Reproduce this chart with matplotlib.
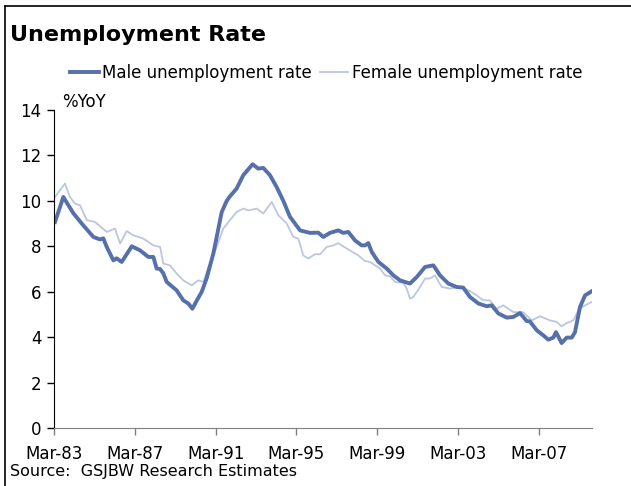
import matplotlib
matplotlib.use("Agg")
import matplotlib.pyplot as plt
import matplotlib.lines as mlines

# Male unemployment rate (%), x in decimal years
male_years = [1983.22, 1983.63, 1984.13, 1984.62, 1985.12, 1985.45, 1985.61, 1985.78,
              1986.11, 1986.27, 1986.52, 1987.02, 1987.43, 1987.84, 1988.09, 1988.25,
              1988.42, 1988.58, 1988.75, 1989.24, 1989.57, 1989.82, 1990.02, 1990.23,
              1990.48, 1990.73, 1991.06, 1991.47, 1991.72, 1991.88, 1992.21, 1992.54,
              1993.00, 1993.28, 1993.53, 1993.86, 1994.19, 1994.52, 1994.85, 1995.35,
              1995.84, 1996.25, 1996.50, 1996.83, 1997.24, 1997.49, 1997.74, 1998.07,
              1998.40, 1998.57, 1998.73, 1998.90, 1999.23, 1999.64, 1999.97, 2000.30,
              2000.79, 2001.13, 2001.54, 2001.95, 2002.28, 2002.69, 2003.10, 2003.43,
              2003.76, 2004.18, 2004.59, 2004.84, 2005.17, 2005.58, 2005.91, 2006.24,
              2006.57, 2006.73, 2007.07, 2007.39, 2007.64, 2007.89, 2008.02, 2008.30,
              2008.55, 2008.80, 2008.96, 2009.21, 2009.46, 2009.79]
male_rate = [9.07, 10.17, 9.45, 8.92, 8.41, 8.30, 8.35, 7.97,
             7.38, 7.47, 7.31, 8.00, 7.82, 7.53, 7.53, 7.02,
             7.00, 6.81, 6.43, 6.06, 5.62, 5.48, 5.25, 5.60,
             5.99, 6.60, 7.69, 9.50, 10.00, 10.20, 10.54, 11.13,
             11.61, 11.42, 11.45, 11.13, 10.61, 10.00, 9.30, 8.70,
             8.59, 8.60, 8.41, 8.59, 8.70, 8.59, 8.63, 8.26,
             8.04, 8.04, 8.14, 7.75, 7.31, 7.02, 6.72, 6.50,
             6.36, 6.65, 7.09, 7.16, 6.72, 6.36, 6.21, 6.18,
             5.77, 5.48, 5.36, 5.40, 5.04, 4.86, 4.89, 5.06,
             4.71, 4.69, 4.30, 4.08, 3.89, 3.98, 4.22, 3.74,
             3.98, 3.98, 4.22, 5.33, 5.84, 6.02]

# Female unemployment rate (%)
female_years = [1983.22, 1983.71, 1983.96, 1984.21, 1984.46, 1984.79, 1985.20, 1985.78,
                1986.19, 1986.44, 1986.77, 1987.10, 1987.59, 1988.09, 1988.42, 1988.58,
                1988.91, 1989.24, 1989.57, 1989.99, 1990.31, 1990.56, 1990.81, 1991.22,
                1991.55, 1991.88, 1992.21, 1992.54, 1992.79, 1993.20, 1993.53, 1993.95,
                1994.27, 1994.69, 1995.02, 1995.26, 1995.51, 1995.76, 1996.09, 1996.34,
                1996.67, 1997.00, 1997.24, 1997.66, 1998.23, 1998.57, 1998.81, 1999.31,
                1999.56, 1999.80, 2000.05, 2000.46, 2000.63, 2000.79, 2000.96, 2001.29,
                2001.54, 2001.78, 2002.03, 2002.36, 2002.77, 2003.27, 2003.76, 2004.09,
                2004.42, 2004.75, 2005.08, 2005.41, 2005.91, 2006.40, 2006.82, 2007.23,
                2007.72, 2008.05, 2008.30, 2008.55, 2008.88, 2009.13, 2009.38, 2009.79]
female_rate = [10.17, 10.76, 10.17, 9.88, 9.80, 9.15, 9.07, 8.63,
               8.78, 8.12, 8.67, 8.48, 8.34, 8.04, 7.97, 7.24,
               7.16, 6.80, 6.50, 6.28, 6.50, 6.43, 7.09, 7.97,
               8.78, 9.15, 9.51, 9.66, 9.58, 9.66, 9.44, 9.95,
               9.37, 9.00, 8.41, 8.34, 7.60, 7.46, 7.65, 7.65,
               7.97, 8.04, 8.14, 7.90, 7.60, 7.35, 7.31, 7.02,
               6.72, 6.68, 6.43, 6.39, 6.14, 5.70, 5.77, 6.21,
               6.58, 6.58, 6.72, 6.21, 6.14, 6.21, 6.03, 5.84,
               5.62, 5.62, 5.25, 5.40, 5.10, 5.10, 4.74, 4.92,
               4.74, 4.67, 4.48, 4.62, 4.74, 5.18, 5.36, 5.55]

tick_years = [1983.17, 1987.17, 1991.17, 1995.17, 1999.17, 2003.17, 2007.17]
tick_labels = ["Mar-83", "Mar-87", "Mar-91", "Mar-95", "Mar-99", "Mar-03", "Mar-07"]

male_color = "#5670AC"
female_color = "#BCC6DF"

plt.rcParams["font.family"] = ["DejaVu Sans"]

fig = plt.figure(figsize=(6.31, 4.86), dpi=100)
ax = fig.add_axes([0.0856, 0.1193, 0.8525, 0.6544])

ax.plot(female_years, female_rate, color=female_color, lw=1.3)
ax.plot(male_years, male_rate, color=male_color, lw=2.8)

ax.set_xlim(1983.17, 2009.80)
ax.set_ylim(0, 14)
ax.set_yticks(range(0, 15, 2))
ax.set_xticks(tick_years)
ax.set_xticklabels(tick_labels)
ax.tick_params(axis="both", labelsize=12, length=5, width=1, color="#808080")
ax.tick_params(axis="x", pad=7)
ax.tick_params(axis="y", pad=4, colors="black")

for side in ["top", "right"]:
    ax.spines[side].set_visible(False)
ax.spines["left"].set_color("black")
ax.spines["bottom"].set_color("#808080")

# Legend on top, male first
male_handle = mlines.Line2D([], [], color=male_color, lw=2.8)
female_handle = mlines.Line2D([], [], color=female_color, lw=1.3)
fig.legend([male_handle, female_handle],
           ["Male unemployment rate", "Female unemployment rate"],
           loc="center", bbox_to_anchor=(0.517, 0.85), ncol=2, frameon=False,
           fontsize=12, handlelength=1.7, handletextpad=0.2, columnspacing=0.5)

fig.text(0.016, 0.928, "Unemployment Rate", fontsize=16, fontweight="bold", va="center")
fig.text(0.098, 0.791, "%YoY", fontsize=12, va="center")
fig.text(0.016, 0.029, "Source:  GSJBW Research Estimates", fontsize=11.5, va="center")

# Frame on top and left edges
fig.add_artist(mlines.Line2D([5 / 631, 1], [1 - 6 / 486, 1 - 6 / 486], color="black", lw=1.2))
fig.add_artist(mlines.Line2D([5 / 631, 5 / 631], [0, 1 - 6 / 486], color="black", lw=1.2))

fig.savefig("out.png", dpi=100)
